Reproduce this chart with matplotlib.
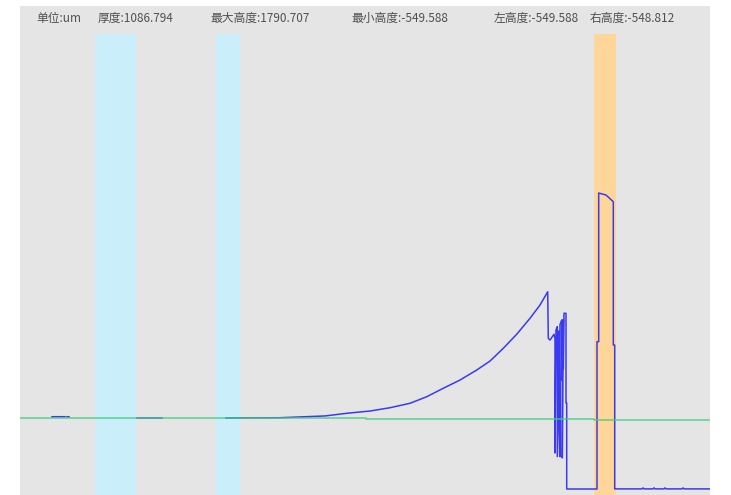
import numpy as np
import matplotlib
matplotlib.use("Agg")
import matplotlib.pyplot as plt

plt.rcParams['font.family'] = ['Noto Sans CJK SC', 'DejaVu Sans']

# Header readouts (um)
unit_label = "单位:um"
header_items = ["厚度:1086.794", "最大高度:1790.707", "最小高度:-549.588",
                "左高度:-549.588", "右高度:-548.812"]
header_x = [78, 190, 331, 474, 570]

# Profile: position along scan vs measured height (um); NaN breaks the trace
profile_x = [32, 45, np.nan, 47, 49, np.nan,
             117, 142, np.nan,
             206, 260, 305, 326.7, 350, 370, 390, 406.7, 423.3, 440, 456.7, 470,
             483.3, 496.7, 510, 520, 527.7,
             528.3, 530, 534, 535, 535, 536, 537.3, 537.3, 539, 539, 540, 540,
             541.7, 541.7, 542.3, 542.3, 543.3, 543.3, 544, 546, 546, 546.7, 546.7,
             577, 577, 578.7, 578.7, 586, 593.3, 593.3, 594.7, 594.7,
             622, 623, 624, 633, 634, 635, 644, 645, 646, 662, 663, 664, 690]
profile_y = [22, 22, np.nan, 22, 22, np.nan,
             12, 12, np.nan,
             12, 14, 28, 49, 67, 93, 128, 180, 247, 312, 391, 462,
             563, 674, 800, 905, 1010,
             642, 628, 674, 640, -265, 708, 734, -294, 101, 700, -294, 750,
             787, 312, 760, -304, 790, 400, 840, 840, 130, 130, -549.588,
             -549.588, 615, 615, 1790.707, 1775, 1722, 589, 589, -548.8,
             -548.8, -541, -548.8, -548.8, -541, -548.8, -548.8, -541, -548.8, -548.8, -541, -548.8, -548.8]

# Reference baseline (um)
baseline_x = [0, 142, 142, 346, 346, 574, 574, 690]
baseline_y = [14, 14, 9.5, 9.5, 1.6, 1.6, -6, -6]

# Highlighted regions along the scan
ref_regions = [(75, 116), (196, 220)]
meas_region = (574, 596)

W, H = 731, 495
fig = plt.figure(figsize=(W / 100, H / 100), dpi=100)
fig.patch.set_facecolor("white")

bg = "#e5e5e5"

# header strip
hax = fig.add_axes([20 / W, (H - 34) / H, 690 / W, 28 / H])
hax.set_facecolor(bg)
hax.set_xlim(20, 710)
hax.set_ylim(0, 1)
hax.axis("off")
hax.add_patch(plt.Rectangle((20, 0), 690, 1, color=bg, zorder=0))
hax.text(36, 0.57, unit_label, fontsize=8.5, color="#505050", va="center", clip_on=True)
for xp, s in zip(header_x, header_items):
    hax.text(xp + 20, 0.57, s, fontsize=8.5, color="#505050", va="center", clip_on=True)

# main plot
ax = fig.add_axes([20 / W, 0, 690 / W, (H - 34) / H])
ax.set_facecolor(bg)
ax.set_xlim(0, 690)
ax.set_ylim(-597, 3048)
for sp in ax.spines.values():
    sp.set_visible(False)
ax.set_xticks([])
ax.set_yticks([])

for a, b in ref_regions:
    ax.axvspan(a, b, color="#cbeefb", zorder=1, lw=0)
ax.axvspan(meas_region[0], meas_region[1], color="#ffd699", zorder=1, lw=0)

ax.plot(profile_x, profile_y, color="#3a3af0", lw=1.1, zorder=3)
ax.plot(baseline_x, baseline_y, color="#3ecf7e", lw=1.1, alpha=0.85, zorder=4)

fig.savefig("out.png", dpi=100, facecolor="white")
